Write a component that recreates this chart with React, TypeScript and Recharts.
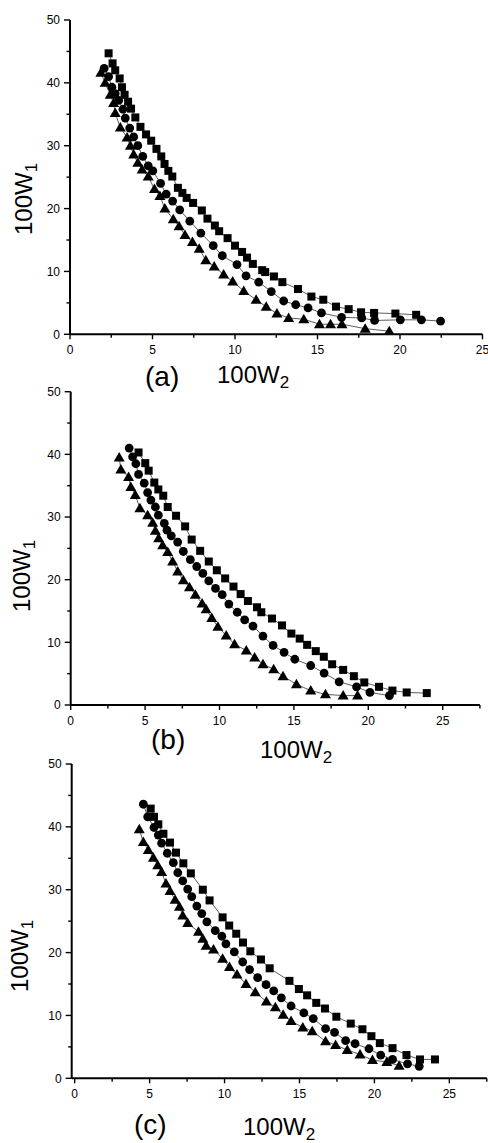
import { ScatterChart, Scatter, XAxis, YAxis } from "recharts";

// panel (a) — [100W2, 100W1]
const aSquares = [
  [2.34, 44.7], [2.58, 43.1], [2.74, 42.0], [3.01, 40.7], [3.15, 39.3], [3.31, 38.1], [3.52, 37.0],
  [3.7, 35.9], [3.96, 34.5], [4.27, 33.0], [4.61, 31.8], [4.92, 30.8], [5.24, 29.5], [5.53, 28.3],
  [5.73, 27.1], [5.96, 26.0], [6.2, 25.1], [6.54, 23.3], [6.81, 22.5], [7.07, 21.7], [7.46, 20.9],
  [7.99, 19.7], [8.33, 18.4], [8.78, 17.3], [9.04, 16.4], [9.55, 15.3], [10.0, 14.1], [10.43, 13.1],
  [10.73, 12.2], [11.08, 11.2], [11.65, 10.2], [11.83, 9.9], [12.36, 9.2], [12.87, 8.3], [13.82, 7.2],
  [14.63, 6.0], [15.35, 5.5], [16.12, 4.4], [16.89, 4.0], [17.64, 3.5], [18.43, 3.4], [19.72, 3.3],
  [20.98, 3.1],
];
const aCircles = [
  [2.07, 42.3], [2.34, 41.0], [2.54, 39.3], [2.74, 38.3], [2.95, 37.2], [3.21, 35.8], [3.35, 34.4],
  [3.62, 32.8], [3.86, 31.4], [4.11, 30.0], [4.41, 28.3], [4.74, 26.8], [5.02, 26.0], [5.49, 24.0],
  [5.83, 22.3], [6.22, 21.2], [6.65, 19.8], [7.26, 18.0], [7.93, 16.1], [8.68, 14.1], [9.23, 12.5],
  [10.12, 11.1], [10.67, 9.3], [11.44, 8.3], [12.2, 6.8], [12.95, 5.3], [13.68, 4.7], [14.43, 4.2],
  [15.24, 3.4], [16.46, 2.7], [17.68, 2.6], [18.46, 2.2], [20.02, 2.3], [21.3, 2.3], [22.46, 2.1],
];
const aTriangles = [
  [1.87, 41.6], [2.13, 40.0], [2.44, 38.1], [2.64, 36.8], [2.74, 35.2], [3.05, 32.9], [3.46, 31.3],
  [3.66, 30.0], [3.86, 28.6], [4.11, 27.3], [4.37, 26.2], [4.74, 25.1], [5.12, 23.1], [5.45, 22.0],
  [5.75, 20.0], [6.26, 18.3], [6.61, 17.2], [6.97, 15.8], [7.42, 14.7], [7.83, 13.6], [8.23, 11.8],
  [8.74, 10.8], [9.31, 9.5], [9.86, 8.4], [10.53, 6.9], [11.28, 5.5], [11.89, 4.4], [12.54, 3.3],
  [13.25, 2.6], [14.17, 2.4], [15.12, 1.6], [15.79, 1.6], [16.48, 1.6], [17.89, 0.9], [19.35, 0.5],
];

// panel (b)
const bSquares = [
  [4.56, 40.3], [5.01, 38.6], [5.24, 37.4], [5.62, 35.5], [5.89, 34.4], [6.22, 33.4], [6.52, 31.6],
  [7.08, 30.2], [7.69, 28.5], [8.13, 26.4], [8.7, 24.6], [9.28, 22.9], [9.82, 21.5], [10.38, 20.2],
  [10.94, 18.9], [11.42, 17.7], [11.91, 16.6], [12.52, 15.6], [12.81, 14.8], [13.53, 13.8], [14.2, 12.7],
  [14.83, 11.4], [15.39, 10.6], [15.89, 9.6], [16.47, 8.6], [17.01, 7.7], [17.57, 6.5], [18.31, 5.6],
  [19.03, 4.6], [19.73, 3.6], [20.72, 2.9], [21.62, 2.3], [22.58, 2.0], [23.93, 1.9],
];
const bCircles = [
  [3.93, 41.0], [4.16, 39.6], [4.38, 38.5], [4.56, 36.8], [4.94, 35.4], [5.17, 33.9], [5.39, 32.7],
  [5.69, 31.6], [5.89, 30.3], [6.29, 29.0], [6.47, 27.9], [6.76, 27.0], [7.19, 26.0], [7.57, 24.5],
  [8.04, 23.2], [8.47, 22.1], [8.88, 21.0], [9.28, 19.8], [9.73, 18.6], [10.18, 17.6], [10.63, 16.1],
  [11.19, 14.8], [11.69, 13.6], [12.25, 12.6], [12.92, 11.0], [13.6, 9.5], [14.34, 8.4], [15.06, 7.3],
  [16.13, 6.3], [17.03, 5.1], [18.04, 3.7], [19.21, 2.9], [20.11, 2.0], [21.42, 1.5],
];
const bTriangles = [
  [3.26, 39.5], [3.37, 37.6], [3.89, 36.4], [4.04, 34.8], [4.34, 33.5], [4.65, 31.4], [5.17, 30.3],
  [5.51, 29.1], [5.69, 27.8], [5.91, 26.6], [6.18, 25.5], [6.52, 24.4], [6.85, 22.9], [7.19, 21.3],
  [7.57, 19.9], [7.98, 18.8], [8.38, 17.6], [8.83, 16.2], [9.1, 15.3], [9.48, 13.9], [9.89, 12.5],
  [10.45, 11.1], [11.01, 9.7], [11.8, 8.7], [12.36, 7.6], [12.92, 6.5], [13.64, 5.7], [14.27, 4.6],
  [15.17, 3.3], [16.13, 2.3], [17.12, 1.7], [18.31, 1.5], [19.28, 1.5],
];

// panel (c)
const cSquares = [
  [5.07, 42.9], [5.29, 41.6], [5.58, 40.4], [5.92, 38.9], [6.36, 37.5], [6.76, 35.9], [7.25, 34.2],
  [7.75, 32.6], [8.55, 30.0], [9.0, 28.3], [9.87, 25.6], [10.31, 24.3], [10.78, 23.0], [11.23, 21.6],
  [11.72, 20.2], [12.43, 18.9], [13.01, 17.5], [14.33, 15.5], [14.96, 14.2], [15.51, 13.2], [16.12, 12.0],
  [16.7, 11.1], [17.46, 9.8], [18.42, 8.7], [19.2, 7.8], [19.8, 6.7], [20.36, 5.6], [21.21, 4.8],
  [22.14, 3.7], [23.04, 3.0], [24.04, 3.0],
];
const cCircles = [
  [4.58, 43.6], [4.87, 41.6], [5.29, 39.9], [5.58, 38.7], [5.8, 37.4], [6.18, 35.8], [6.58, 34.3],
  [6.88, 32.7], [7.21, 31.4], [7.54, 30.1], [7.81, 28.9], [8.15, 27.4], [8.48, 26.2], [8.82, 24.9],
  [9.38, 23.5], [9.82, 22.6], [10.09, 21.4], [10.65, 20.1], [11.21, 18.5], [11.67, 17.3], [12.21, 16.0],
  [12.77, 14.9], [13.28, 13.9], [13.79, 12.8], [14.44, 11.5], [15.29, 10.4], [15.92, 9.5], [16.74, 7.9],
  [17.34, 7.3], [18.08, 6.0], [18.71, 5.5], [19.64, 4.7], [20.42, 3.7], [21.21, 3.0], [22.21, 2.3],
  [22.99, 1.9],
];
const cTriangles = [
  [4.31, 39.6], [4.58, 37.6], [4.91, 36.3], [5.25, 35.1], [5.54, 33.9], [5.8, 32.8], [6.09, 31.0],
  [6.36, 29.8], [6.7, 28.4], [6.99, 27.3], [7.21, 25.9], [7.54, 24.7], [8.26, 23.3], [8.55, 22.2],
  [8.77, 21.1], [9.26, 20.5], [9.87, 19.0], [10.33, 17.7], [10.83, 16.5], [11.43, 15.0], [12.05, 13.7],
  [12.79, 12.2], [13.39, 11.3], [13.91, 10.1], [14.44, 9.1], [15.22, 8.1], [15.85, 7.5], [16.74, 5.9],
  [17.41, 5.3], [18.19, 4.5], [19.04, 3.8], [19.87, 2.9], [20.83, 2.6], [21.65, 2.0],
];

const yTicks = [0, 5, 10, 15, 20, 25, 30, 35, 40, 45, 50];
const xTicksA = [0, 2.5, 5, 7.5, 10, 12.5, 15, 17.5, 20, 22.5, 25];
const xTicksBC = [...xTicksA, 27.5];

const font = "Arial, 'Liberation Sans', Helvetica, sans-serif";
const toPts = (arr: number[][]) => arr.map(([x, y]) => ({ x, y }));

const Square = (p: any) => <rect x={p.cx - 4} y={p.cy - 4} width={8} height={8} fill="#000" />;
const Dot = (p: any) => <circle cx={p.cx} cy={p.cy} r={4.4} fill="#000" />;
const Tri = (p: any) => (
  <polygon points={`${p.cx},${p.cy - 5.5} ${p.cx + 5.5},${p.cy + 4} ${p.cx - 5.5},${p.cy + 4}`} fill="#000" />
);

const XTick = ({ x, y, payload }: any) => {
  const major = payload.value % 5 === 0;
  return (
    <g>
      <line x1={x} x2={x} y1={y} y2={y + (major ? 5 : 3.5)} stroke="#000" strokeWidth={1.4} />
      {major && (
        <text x={x} y={y + 20} textAnchor="middle" fontSize={12} fontFamily={font} fill="#000">
          {payload.value}
        </text>
      )}
    </g>
  );
};

const YTick = ({ x, y, payload }: any) => {
  const major = payload.value % 10 === 0;
  return (
    <g>
      <line x1={x - (major ? 6 : 3.5)} x2={x} y1={y} y2={y} stroke="#000" strokeWidth={1.4} />
      {major && (
        <text x={x - 10} y={y + 4.3} textAnchor="end" fontSize={12} fontFamily={font} fill="#000">
          {payload.value}
        </text>
      )}
    </g>
  );
};

const lineStyle = { stroke: "#333", strokeWidth: 0.8 };
const axisStyle = { stroke: "#000", strokeWidth: 2 };

function Panel({ top, margin, xMax, xTicks, padLeft, squares, circles, triangles }: any) {
  return (
    <div style={{ position: "absolute", left: 0, top }}>
      <ScatterChart width={488} height={360} margin={margin}>
        <XAxis
          type="number"
          dataKey="x"
          domain={[0, xMax]}
          ticks={xTicks}
          interval={0}
          padding={{ left: padLeft, right: 0 }}
          allowDataOverflow
          height={20}
          stroke="#000"
          tickSize={0}
          tickMargin={0}
          tickLine={false}
          tick={<XTick />}
          axisLine={axisStyle}
        />
        <YAxis
          type="number"
          dataKey="y"
          domain={[0, 50]}
          ticks={yTicks}
          interval={0}
          allowDataOverflow
          width={60}
          stroke="#000"
          tickSize={0}
          tickMargin={0}
          tickLine={false}
          tick={<YTick />}
          axisLine={axisStyle}
        />
        <Scatter data={toPts(triangles)} line={lineStyle} lineType="joint" shape={Tri} isAnimationActive={false} />
        <Scatter data={toPts(circles)} line={lineStyle} lineType="joint" shape={Dot} isAnimationActive={false} />
        <Scatter data={toPts(squares)} line={lineStyle} lineType="joint" shape={Square} isAnimationActive={false} />
      </ScatterChart>
    </div>
  );
}

const YLabel = ({ x, y }: { x: number; y: number }) => (
  <text transform={`translate(${x},${y}) rotate(-90)`} fontSize={24} fontFamily={font} fill="#000">
    100W<tspan fontSize={17} dy={5}>1</tspan>
  </text>
);

const XLabel = ({ tag, tx, ty, x, y }: { tag: string; tx: number; ty: number; x: number; y: number }) => (
  <g fontFamily={font} fill="#000">
    <text x={tx} y={ty} fontSize={28}>{tag}</text>
    <text x={x} y={y} fontSize={24}>
      100W<tspan fontSize={17} dy={5}>2</tspan>
    </text>
  </g>
);

export default function App() {
  return (
    <div style={{ position: "absolute", left: 0, top: 0, width: 488, height: 1143, background: "#fff" }}>
      <Panel
        top={0}
        margin={{ top: 20, right: 5.5, bottom: 5.7, left: 10 }}
        xMax={25}
        xTicks={xTicksA}
        padLeft={0}
        squares={aSquares}
        circles={aCircles}
        triangles={aTriangles}
      />
      <Panel
        top={370}
        margin={{ top: 21.7, right: 8.1, bottom: 5, left: 10.7 }}
        xMax={27.5}
        xTicks={xTicksBC}
        padLeft={0}
        squares={bSquares}
        circles={bCircles}
        triangles={bTriangles}
      />
      <Panel
        top={740}
        margin={{ top: 24, right: 1.2, bottom: 1.7, left: 11.7 }}
        xMax={27.5}
        xTicks={xTicksBC}
        padLeft={3}
        squares={cSquares}
        circles={cCircles}
        triangles={cTriangles}
      />
      <svg width={488} height={1143} style={{ position: "absolute", left: 0, top: 0, pointerEvents: "none" }}>
        <YLabel x={32} y={235} />
        <YLabel x={30} y={612} />
        <YLabel x={27.5} y={992} />
        <XLabel tag="(a)" tx={145} ty={386} x={217} y={383} />
        <XLabel tag="(b)" tx={151} ty={749} x={260} y={758} />
        <XLabel tag="(c)" tx={134} ty={1134} x={243} y={1135} />
      </svg>
    </div>
  );
}
